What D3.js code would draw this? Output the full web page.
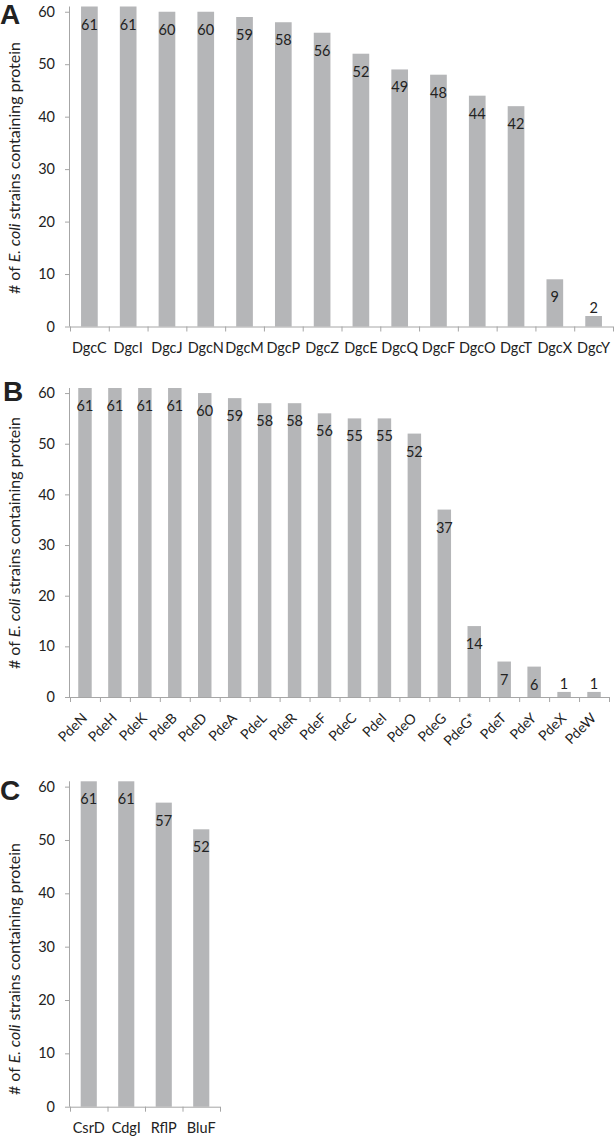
<!DOCTYPE html>
<html><head><meta charset="utf-8">
<script src="https://cdn.jsdelivr.net/npm/d3@7"></script>
<style>
html,body{margin:0;padding:0;background:#fff;}
text{font-family:Lato,"Noto Sans",sans-serif;fill:#222;}
</style></head>
<body><svg id="chart" width="614" height="1136"></svg>
<script>
const dgcNames = ["DgcC","DgcI","DgcJ","DgcN","DgcM","DgcP","DgcZ","DgcE","DgcQ","DgcF","DgcO","DgcT","DgcX","DgcY"];
const dgcValues = [61,61,60,60,59,58,56,52,49,48,44,42,9,2];
const pdeNames = ["PdeN","PdeH","PdeK","PdeB","PdeD","PdeA","PdeL","PdeR","PdeF","PdeC","PdeI","PdeO","PdeG","PdeG*","PdeT","PdeY","PdeX","PdeW"];
const pdeValues = [61,61,61,61,60,59,58,58,56,55,55,52,37,14,7,6,1,1];
const otherNames = ["CsrD","CdgI","RflP","BluF"];
const otherValues = [61,61,57,52];
const yTicks = [0,10,20,30,40,50,60];

const svg = d3.select("#chart");
const barColor = "#b5b6b8";
const axisColor = "#a6a6a6";

function panel(cfg){
  const g = svg.append("g");
  const x = d3.scaleBand().domain(cfg.names).range([cfg.x0, cfg.x1]).paddingInner(cfg.pad).paddingOuter(cfg.pad/2);
  const y = d3.scaleLinear().domain([0,61]).range([cfg.yBase, cfg.yTop]);
  const data = cfg.names.map((n,i)=>({n, v: cfg.values[i]}));
  g.selectAll("rect.bar").data(data).enter().append("rect")
    .attr("x", d=>x(d.n)).attr("width", x.bandwidth())
    .attr("y", d=>y(d.v)).attr("height", d=>y(0)-y(d.v))
    .attr("fill", barColor);
  const ya = g.append("g").attr("transform",`translate(${cfg.x0},0)`)
    .call(d3.axisLeft(y).tickValues(yTicks).tickSize(5).tickPadding(10));
  ya.select(".domain").attr("d", `M-0.5,${y(61)}V${y(0)}`).attr("stroke",axisColor);
  ya.selectAll(".tick line").attr("stroke",axisColor);
  ya.selectAll(".tick text").style("font-size","14.5px").attr("fill","#222");
  const step = x.step();
  g.append("line").attr("x1",cfg.x0).attr("x2",cfg.x1).attr("y1",y(0)+0.5).attr("y2",y(0)+0.5).attr("stroke",axisColor);
  const bounds = d3.range(cfg.names.length+1).map(i=>cfg.x0 + i*step);
  g.selectAll("line.xt").data(bounds).enter().append("line")
    .attr("x1",d=>d+0.5).attr("x2",d=>d+0.5).attr("y1",y(0)).attr("y2",y(0)+5).attr("stroke",axisColor);
  if(cfg.rotate){
    g.selectAll("text.xl").data(data).enter().append("text")
      .attr("transform", d=>`translate(${x(d.n)+x.bandwidth()/2+cfg.rdx},${y(0)+cfg.rdy}) rotate(-45)`)
      .attr("text-anchor","end").style("font-size","14px").text(d=>d.n);
  } else {
    g.selectAll("text.xl").data(data).enter().append("text")
      .attr("x", d=>x(d.n)+x.bandwidth()/2).attr("y", y(0)+26)
      .attr("text-anchor","middle").style("font-size","14.5px").text(d=>d.n);
  }
  g.selectAll("text.vl").data(data).enter().append("text")
    .attr("x", d=>x(d.n)+x.bandwidth()/2)
    .attr("y", d=> (y(0)-y(d.v) < 25) ? y(d.v)-3 : y(d.v)+23)
    .attr("text-anchor","middle").style("font-size","14.5px").text(d=>d.v);
  const t = g.append("text").attr("transform",`translate(${cfg.tx},${cfg.ty}) rotate(-90)`)
    .attr("text-anchor","middle").style("font-size","16px");
  t.append("tspan").text("# of ");
  t.append("tspan").style("font-style","italic").text("E. coli");
  t.append("tspan").text(" strains containing protein");
  g.append("text").attr("x",cfg.lx).attr("y",cfg.ly)
    .style("font-family","'Liberation Sans',Arial,sans-serif").style("font-weight","bold").style("font-size","28px")
    .attr("fill","#000").text(cfg.letter);
}

panel({names:dgcNames, values:dgcValues, x0:70, x1:613, yBase:326.5, yTop:6.5, pad:0.57, tx:20, ty:168, lx:0, ly:24, letter:"A"});
panel({names:pdeNames, values:pdeValues, x0:70, x1:609, yBase:697, yTop:388, pad:0.55, rotate:true, rdx:3, rdy:22, tx:20, ty:543, lx:3, ly:401, letter:"B"});
panel({names:otherNames, values:otherValues, x0:70, x1:220, yBase:1106.7, yTop:781.3, pad:0.57, tx:20, ty:969, lx:0, ly:800, letter:"C"});
</script></body></html>
